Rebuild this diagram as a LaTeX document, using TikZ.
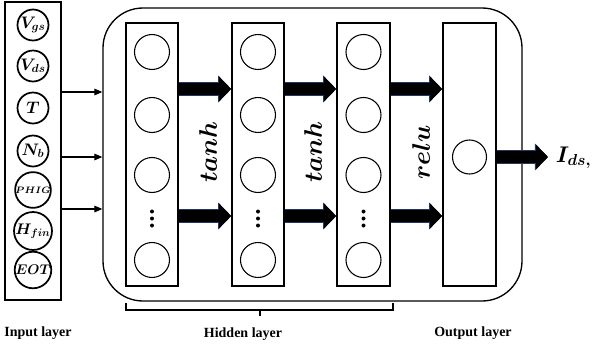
\RequirePackage{fix-cm}
\documentclass[tikz,border=0pt]{standalone}
\usepackage{bm}
\usepackage{fontspec}
\setmainfont{Liberation Serif}
\usetikzlibrary{arrows.meta}
\definecolor{arrowedge}{RGB}{31,56,100}

\begin{document}
\begin{tikzpicture}[x=0.75pt,y=-0.75pt,
  inneuron/.style={circle,draw,line width=1.3pt,minimum size=23.25pt,inner sep=0pt,
    font=\fontsize{12.5}{13}\selectfont},
  neuron/.style={circle,draw,line width=0.8pt,minimum size=26.25pt,inner sep=0pt},
  layerbox/.style={draw,line width=1.2pt,minimum width=39pt,minimum height=197.25pt,inner sep=0pt},
  feed/.style={line width=0.8pt,-{Triangle[width=5pt,length=6pt]}},
  fatarrow/.style={line width=9pt,-{Triangle[width=18pt,length=9pt]},
    preaction={draw=arrowedge,line width=10.2pt,-{Triangle[width=19.6pt,length=9.8pt]}}},
  actlabel/.style={rotate=90,font=\fontsize{19}{20}\selectfont},
  layerlabel/.style={font=\bfseries\fontsize{10.5}{12}\selectfont},
  dot/.style={fill=black}
]
\useasboundingbox (0,0) rectangle (592,347);

% input layer
\node[draw,line width=1.1pt,minimum width=42pt,minimum height=223.5pt,inner sep=0pt] (inbox) at (33,151) {};
\node[inneuron] (x1) at (33,25)  {$\bm{V_{gs}}$};
\node[inneuron] (x2) at (33,66)  {$\bm{V_{ds}}$};
\node[inneuron] (x3) at (33,108) {$\bm{T}$};
\node[inneuron] (x4) at (33,151) {$\bm{N_b}$};
\node[inneuron,font=\fontsize{7}{8}\selectfont] (x5) at (33,190) {$\bm{PHIG}$};
\node[inneuron,font=\fontsize{11.5}{12}\selectfont] (x6) at (33,231) {$\bm{H_{fin}}$};
\node[inneuron,font=\fontsize{10.5}{11}\selectfont] (x7) at (33,270) {$\bm{EOT}$};

% network frame
\node[draw,line width=1pt,rounded corners=30pt,minimum width=314.25pt,minimum height=219.75pt,inner sep=0pt] (net) at (312.5,154.5) {};

% hidden and output layers
\node[layerbox] (h1) at (152,154.5) {};
\node[layerbox] (h2) at (258,154.5) {};
\node[layerbox,minimum width=39.75pt] (h3) at (363.5,154.5) {};
\node[layerbox,minimum width=39.75pt] (out) at (469.5,154.5) {};

\foreach \n/\x in {1/152,2/258,3/363.5}{
  \foreach \k/\y in {a/52,b/115,c/175,d/260}
    \node[neuron] (n\n\k) at (\x,\y) {};
  \foreach \y in {211.5,218.5,225.5}
    \fill[dot] (\x,\y) circle (1.5pt);
}
\node[neuron,minimum size=25.5pt] (o1) at (469.5,157) {};

% activation labels
\node[actlabel] (act1) at (208,152) {$\bm{tanh}$};
\node[actlabel] (act2) at (313,152) {$\bm{tanh}$};
\node[actlabel] (act3) at (421,152) {$\bm{relu}$};

% inputs into the network
\foreach \y in {92,157,209}{
  \coordinate (r\y) at (0,\y);
  \draw[feed] (inbox.east |- r\y) -- (net.west |- r\y);
}

% layer-to-layer arrows
\foreach \y in {89,216}{
  \coordinate (row\y) at (0,\y);
  \draw[fatarrow] (h1.east |- row\y) -- (h2.west |- row\y);
  \draw[fatarrow] (h2.east |- row\y) -- (h3.west |- row\y);
  \draw[fatarrow] (h3.east |- row\y) -- (out.west |- row\y);
}

% output
\coordinate (yout) at (548,157);
\draw[fatarrow] (out.east |- yout) -- (yout);
\node[anchor=west,inner sep=2pt,font=\fontsize{17}{18}\selectfont] (ids) at (553,158) {$\bm{I_{ds,}}$};

% bracket under the hidden layers
\draw[line width=0.8pt] (126,303) -- (126,310) -- (393,310) -- (393,303);
\draw[line width=1.5pt] (260,310) -- (260,316);

% layer names
\node[layerlabel] (lin)  at (38,333)  {Input layer};
\node[layerlabel] (lhid) at (243,334) {Hidden layer};
\node[layerlabel] (lout) at (473,333) {Output layer};
\end{tikzpicture}
\end{document}
